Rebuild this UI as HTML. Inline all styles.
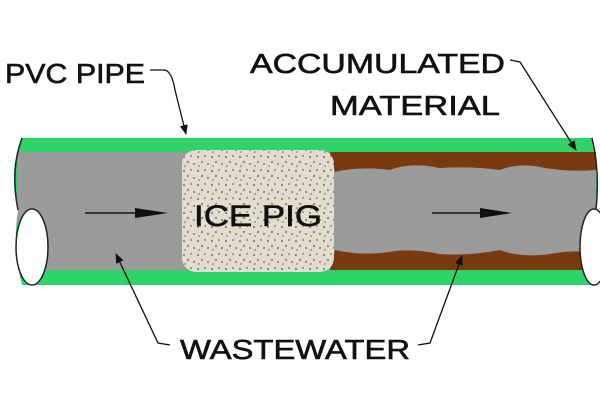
<!DOCTYPE html>
<html><head><style>
html,body{margin:0;padding:0;background:#fff;}
svg{display:block}
text{font-family:"Liberation Sans",Arial,sans-serif;fill:#111;stroke:#111;stroke-width:0.6}
</style></head><body>
<svg width="600" height="400" viewBox="0 0 600 400">
<defs>
<pattern id="spk" width="14" height="14" patternUnits="userSpaceOnUse">
<rect width="14" height="14" fill="#e3ddd0"/>
<circle cx="2" cy="3" r="1.1" fill="#857f72"/><circle cx="9" cy="2" r="0.9" fill="#6f6a60"/>
<circle cx="6" cy="8" r="1.2" fill="#938d80"/><circle cx="12" cy="10" r="1" fill="#7a746a"/>
<circle cx="3" cy="12" r="0.9" fill="#857f72"/>
</pattern>
<marker id="ah" markerWidth="10" markerHeight="8" refX="9" refY="4" orient="auto" markerUnits="userSpaceOnUse">
<path d="M0,0 L10,4 L0,8 Z" fill="#111"/></marker>
</defs>
<path d="M22,138 L592,138 Q598,160 596,210 L596,285 L22,285 Q12,250 18,210 Q8,170 22,138Z" fill="#2ed46a"/>
<rect x="18" y="152" width="578" height="118" fill="#9b9b9b"/>
<path d="M330,152 L596,152 L596,170 Q570,172 545,168 Q520,162 500,170 Q470,166 440,168 Q410,162 390,170 Q360,166 335,172 Z" fill="#7a3a10"/>
<path d="M330,270 L596,270 L596,252 Q570,250 550,254 Q520,258 500,250 Q470,256 440,254 Q410,248 390,252 Q360,256 335,250 Z" fill="#7a3a10"/>
<rect x="182" y="150" width="152" height="122" rx="14" fill="url(#spk)"/>
<text x="194" y="226" font-size="30" textLength="128" lengthAdjust="spacingAndGlyphs">ICE PIG</text>
<ellipse cx="32" cy="247" rx="16" ry="38" fill="#fff" stroke="#222" stroke-width="1.5"/>
<ellipse cx="594" cy="247" rx="14" ry="38" fill="#fff" stroke="#222" stroke-width="1.5"/>
<path d="M22,138 Q10,170 18,210" fill="none" stroke="#222" stroke-width="1.5"/>
<path d="M592,138 Q600,170 596,210" fill="none" stroke="#222" stroke-width="1.5"/>
<line x1="85" y1="213" x2="140" y2="213" stroke="#111" stroke-width="1.5"/>
<path d="M135,208 L168,213 L135,218Z" fill="#111"/>
<line x1="432" y1="213" x2="485" y2="213" stroke="#111" stroke-width="1.5"/>
<path d="M480,208 L512,213 L480,218Z" fill="#111"/>
<text x="5" y="83" font-size="28" textLength="140" lengthAdjust="spacingAndGlyphs">PVC PIPE</text>
<text x="250" y="73" font-size="28" textLength="255" lengthAdjust="spacingAndGlyphs">ACCUMULATED</text>
<text x="330" y="115" font-size="28" textLength="170" lengthAdjust="spacingAndGlyphs">MATERIAL</text>
<text x="180" y="359" font-size="28" textLength="230" lengthAdjust="spacingAndGlyphs">WASTEWATER</text>
<path d="M150,70 L165,70 Q172,72 175,90 L186,134" fill="none" stroke="#111" stroke-width="1.3" marker-end="url(#ah)"/>
<path d="M510,60 L520,62 L576,150" fill="none" stroke="#111" stroke-width="1.3" marker-end="url(#ah)"/>
<path d="M170,345 L158,343 L116,254" fill="none" stroke="#111" stroke-width="1.3" marker-end="url(#ah)"/>
<path d="M418,345 L430,343 L462,256" fill="none" stroke="#111" stroke-width="1.3" marker-end="url(#ah)"/>
</svg>
</body></html>
